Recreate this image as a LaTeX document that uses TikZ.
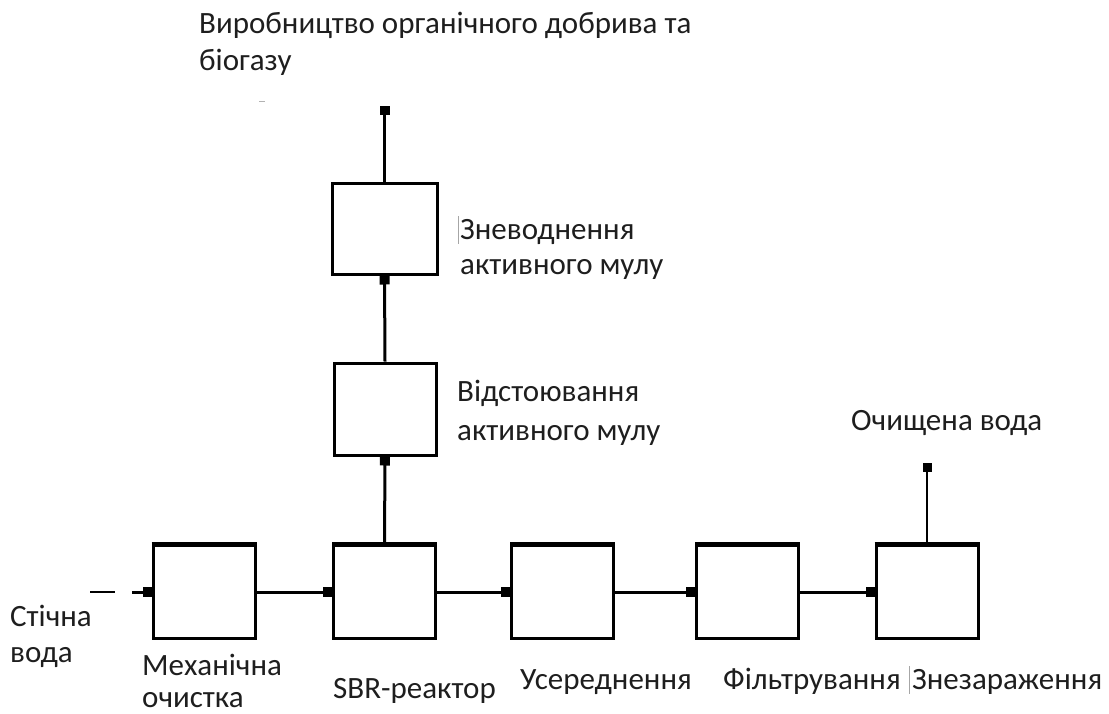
\documentclass[tikz,border=0pt]{standalone}
\usepackage{fontspec}
\setmainfont{Carlito}
\usetikzlibrary{arrows.meta}
\definecolor{txt}{HTML}{1E1E1E}
\tikzset{
  stage/.style={draw=black, line width=3pt, fill=white, minimum width=102pt, minimum height=93pt, inner sep=0pt},
  topedge/.style={line width=5pt, black},
  conn/.style={line width=3pt, -{Square[length=9pt,width=10pt]}},
  thinconn/.style={line width=1.8pt, -{Square[length=9pt,width=9pt]}},
  lbl/.style={anchor=base west, inner sep=0pt, text=txt, font=\fontsize{31}{38}\selectfont},
  cursor/.style={gray!70, line width=0.8pt}
}
\begin{document}
\begin{tikzpicture}[x=1pt,y=-1pt]
\useasboundingbox (0,0) rectangle (1109,713);
% bottom row
\node[stage] (s1) at (204,592) {};
\node[stage] (s2) at (384.5,592) {};
\node[stage] (s3) at (562.5,592) {};
\node[stage] (s4) at (747.5,592) {};
\node[stage] (s5) at (927,592) {};
\foreach \n in {s1,s2,s3,s4,s5} \draw[topedge] (\n.north west) -- (\n.north east);
% vertical column
\node[stage, minimum height=92pt] (a) at (385,409) {};
\node[stage, minimum height=91pt, minimum width=105pt] (b) at (384.5,228.5) {};
% free ends
\coordinate (top) at (384.5,106);
\coordinate (clean) at (927,463);
\coordinate (in0) at (90,592);
\coordinate (in1) at (115,592);
\coordinate (in2) at (132,592);
% connectors
\draw[line width=1.8pt] (in0) -- (in1);
\draw[conn] (in2) -- (s1.west);
\draw[conn] (s1.east) -- (s2.west);
\draw[conn] (s2.east) -- (s3.west);
\draw[conn] (s3.east) -- (s4.west);
\draw[conn] (s4.east) -- (s5.west);
\draw[conn] (s2.north) -- (a.south);
\draw[conn] (a.north) -- (b.south);
\draw[conn] (b.north) -- (top);
\draw[thinconn] (s5.north) -- (clean);
% labels
\node[lbl] (t1) at (199,33) {Виробництво органічного добрива та};
\node[lbl] (t2) at (199,70) {біогазу};
\draw[gray!60, line width=1pt] (259,101) -- (265,101);
\node[lbl] (z1) at (460,239) {Зневоднення};
\node[lbl] (z2) at (460,274) {активного мулу};
\draw[cursor] (458,216) -- (458,244);
\node[lbl] (v1) at (457,401) {Відстоювання};
\node[lbl] (v2) at (457,440) {активного мулу};
\node[lbl] (o1) at (851,430) {Очищена вода};
\node[lbl] (w1) at (10,626) {Стічна};
\node[lbl] (w2) at (10,662) {вода};
\node[lbl] (m1) at (142,675) {Механічна};
\node[lbl] (m2) at (142,707) {очистка};
\node[lbl] (r1) at (333,698) {SBR-реактор};
\node[lbl] (u1) at (520,689) {Усереднення};
\node[lbl] (f1) at (723,689) {Фільтрування};
\draw[cursor] (909,666) -- (909,694);
\node[lbl] (e1) at (912,689) {Знезараження};
\end{tikzpicture}
\end{document}
